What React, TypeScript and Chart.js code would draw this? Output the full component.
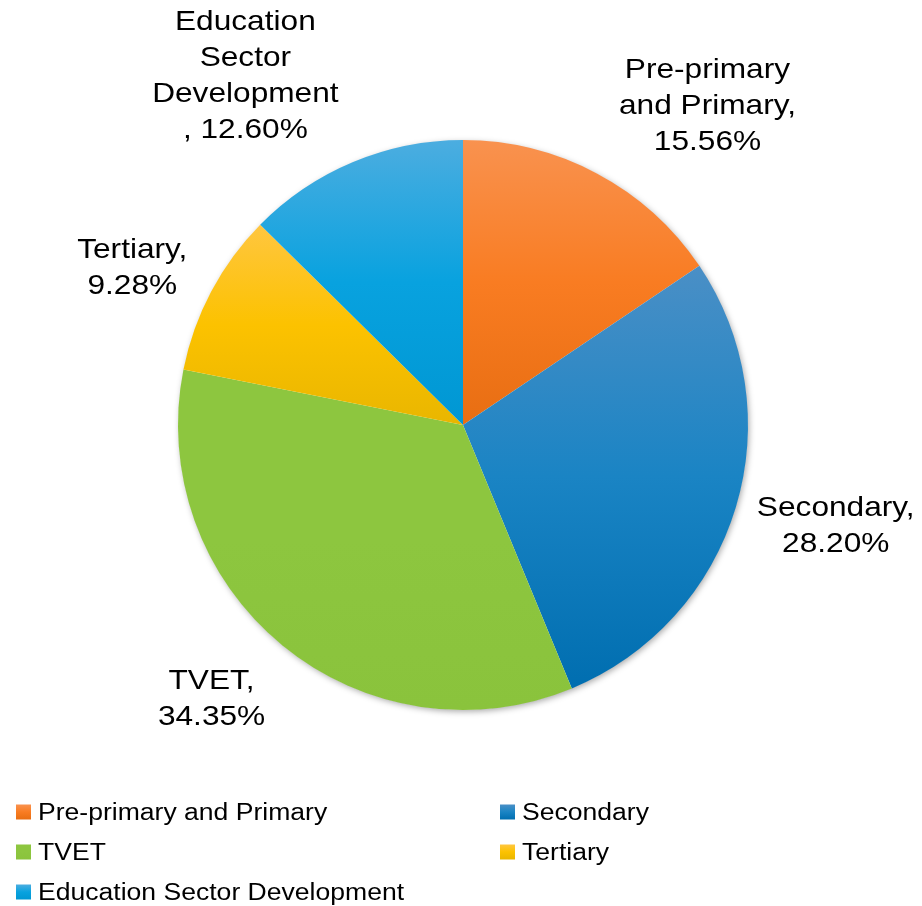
import React, { useEffect, useRef } from "react";
import { Chart, registerables } from "chart.js";

Chart.register(...registerables);

// ---- data ----
const categories = [
  "Pre-primary and Primary",
  "Secondary",
  "TVET",
  "Tertiary",
  "Education Sector Development",
];
const shares = [15.56, 28.2, 34.35, 9.28, 12.6];
const pct = (v: number) => v.toFixed(2) + "%";
const labelLines = [
  ["Pre-primary", "and Primary,", pct(shares[0])],
  ["Secondary,", pct(shares[1])],
  ["TVET,", pct(shares[2])],
  ["Tertiary,", pct(shares[3])],
  ["Education", "Sector", "Development", ", " + pct(shares[4])],
];
// gradient stops: top / middle / bottom
const sliceColors = [
  ["#F9924F", "#F97C22", "#E86E12"],
  ["#4A8FC6", "#1A84C4", "#006EB0"],
  ["#8DC63F", "#8DC63F", "#8AC33C"],
  ["#FFC640", "#FCC200", "#E9B600"],
  ["#4CADE0", "#08A2DF", "#0097D3"],
];

// ---- layout / style ----
const W = 922;
const H = 906;
const FONT = '"Liberation Sans", Arial, sans-serif';
const SX = 1.13; // horizontal text stretch
const LABEL_SIZE = 28;
const LABEL_LH = 36;
const LABEL_GAP = 15;
const labelNudge = [
  [62, -6],
  [10, 4],
  [-27, 15],
  [-17, 1],
  [-66, -5],
];
const LEGEND_SIZE = 23.5;
const legendCols = [16, 500];
const legendRows = [812, 852, 892];
const MARK = 15;

const total = shares.reduce((a, b) => a + b, 0);

function sliceGradient(chart: any, i: number) {
  const area = chart.chartArea;
  if (!area) return sliceColors[i][1];
  const cx = (area.left + area.right) / 2;
  const cy = (area.top + area.bottom) / 2;
  const r = Math.min(area.width, area.height) / 2;
  let before = 0;
  for (let k = 0; k < i; k++) before += shares[k];
  const a0 = -Math.PI / 2 + (2 * Math.PI * before) / total;
  const a1 = a0 + (2 * Math.PI * shares[i]) / total;
  let minY = cy;
  let maxY = cy;
  for (let k = 0; k <= 80; k++) {
    const a = a0 + ((a1 - a0) * k) / 80;
    const y = cy + r * Math.sin(a);
    minY = Math.min(minY, y);
    maxY = Math.max(maxY, y);
  }
  const g = chart.ctx.createLinearGradient(0, minY, 0, maxY);
  g.addColorStop(0, sliceColors[i][0]);
  g.addColorStop(0.5, sliceColors[i][1]);
  g.addColorStop(1, sliceColors[i][2]);
  return g;
}

function stretchedText(ctx: CanvasRenderingContext2D, text: string, x: number, y: number, align: CanvasTextAlign) {
  ctx.save();
  ctx.translate(x, y);
  ctx.scale(SX, 1);
  ctx.textAlign = align;
  ctx.fillText(text, 0, 0);
  ctx.restore();
}

const shadowPlugin = {
  id: "pieShadow",
  beforeDatasetsDraw(chart: any) {
    const meta = chart.getDatasetMeta(0);
    if (!meta.data.length) return;
    const arc = meta.data[0];
    const { x, y, outerRadius } = arc.getProps(["x", "y", "outerRadius"], true);
    const ctx = chart.ctx;
    ctx.save();
    ctx.shadowColor = "rgba(0,0,0,0.35)";
    ctx.shadowBlur = 6;
    ctx.shadowOffsetX = 1.5;
    ctx.shadowOffsetY = 2;
    ctx.fillStyle = "#ffffff";
    ctx.beginPath();
    ctx.arc(x, y, outerRadius - 0.5, 0, Math.PI * 2);
    ctx.fill();
    ctx.restore();
  },
};

const labelPlugin = {
  id: "outsideLabels",
  afterDatasetsDraw(chart: any) {
    const ctx = chart.ctx;
    const meta = chart.getDatasetMeta(0);
    ctx.save();
    ctx.font = `${LABEL_SIZE}px ${FONT}`;
    ctx.fillStyle = "#000000";
    ctx.textBaseline = "middle";
    meta.data.forEach((arc: any, i: number) => {
      const { x, y, startAngle, endAngle, outerRadius } = arc.getProps(
        ["x", "y", "startAngle", "endAngle", "outerRadius"],
        true
      );
      const mid = (startAngle + endAngle) / 2;
      const dx = Math.cos(mid);
      const dy = Math.sin(mid);
      const lines = labelLines[i];
      const w = Math.max(...lines.map((l) => ctx.measureText(l).width * SX));
      const h = lines.length * LABEL_LH;
      const ax = x + (outerRadius + LABEL_GAP) * dx;
      const ay = y + (outerRadius + LABEL_GAP) * dy;
      const bx = ax + (dx * w) / 2 + labelNudge[i][0];
      const by = ay + (dy * h) / 2 + labelNudge[i][1];
      lines.forEach((line, k) => {
        const ly = by - h / 2 + LABEL_LH / 2 + k * LABEL_LH;
        stretchedText(ctx, line, bx, ly, "center");
      });
    });
    ctx.restore();
  },
};

const legendPlugin = {
  id: "customLegend",
  afterDraw(chart: any) {
    const ctx = chart.ctx;
    ctx.save();
    ctx.font = `${LEGEND_SIZE}px ${FONT}`;
    ctx.fillStyle = "#000000";
    ctx.textBaseline = "middle";
    categories.forEach((cat, i) => {
      const col = legendCols[i % 2];
      const row = legendRows[Math.floor(i / 2)];
      const top = row - MARK / 2;
      const g = ctx.createLinearGradient(0, top, 0, top + MARK);
      g.addColorStop(0, sliceColors[i][0]);
      g.addColorStop(0.5, sliceColors[i][1]);
      g.addColorStop(1, sliceColors[i][2]);
      ctx.fillStyle = g;
      ctx.fillRect(col, top, MARK, MARK);
      ctx.fillStyle = "#000000";
      stretchedText(ctx, cat, col + MARK + 7, row + 2, "left");
    });
    ctx.restore();
  },
};

export default function App() {
  const ref = useRef<HTMLCanvasElement | null>(null);
  useEffect(() => {
    if (!ref.current) return;
    const chart = new Chart(ref.current, {
      type: "pie",
      data: {
        labels: categories,
        datasets: [
          {
            data: shares,
            borderWidth: 0,
            backgroundColor: (c: any) =>
              c.type === "data" ? sliceGradient(c.chart, c.dataIndex) : sliceColors[0][1],
          },
        ],
      },
      options: {
        responsive: false,
        animation: false,
        layout: { padding: { left: 178, right: 174, top: 140, bottom: 196 } },
        plugins: {
          legend: { display: false },
          tooltip: { enabled: false },
        },
      },
      plugins: [shadowPlugin, labelPlugin, legendPlugin],
    });
    return () => chart.destroy();
  }, []);
  return (
    <div style={{ position: "absolute", left: 0, top: 0, width: W, height: H, background: "#fff" }}>
      <canvas ref={ref} width={W} height={H} style={{ display: "block", width: W, height: H }} />
    </div>
  );
}
